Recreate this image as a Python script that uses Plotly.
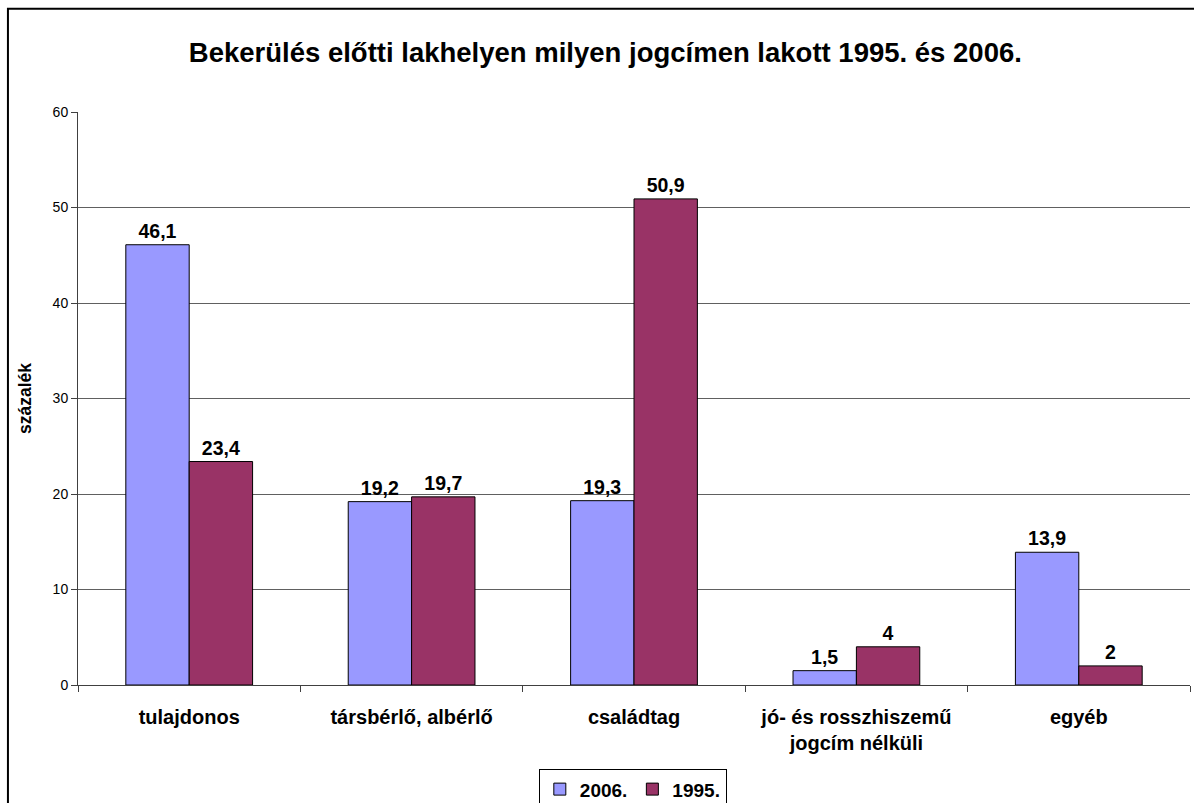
import plotly.graph_objects as go

# Data
categories = [
    "tulajdonos",
    "társbérlő, albérlő",
    "családtag",
    "jó- és rosszhiszemű<br>jogcím nélküli",
    "egyéb",
]
values_2006 = [46.1, 19.2, 19.3, 1.5, 13.9]
values_1995 = [23.4, 19.7, 50.9, 4, 2]
series_names = ["2006.", "1995."]
y_ticks = [0, 10, 20, 30, 40, 50, 60]

FONT = "Liberation Sans, Arial, sans-serif"


def fmt(v):
    return f"{v:g}".replace(".", ",")


fig = go.Figure()
for name, vals, color in [
    (series_names[0], values_2006, "#9999FF"),
    (series_names[1], values_1995, "#993366"),
]:
    fig.add_trace(
        go.Bar(
            name=name,
            x=categories,
            y=vals,
            text=[fmt(v) for v in vals],
            textposition="outside",
            textfont=dict(family=FONT, size=19.5, color="black", weight="bold"),
            marker=dict(color=color, line=dict(color="black", width=1)),
            cliponaxis=False,
        )
    )

# Outer chart frame
fig.add_shape(
    type="rect", xref="paper", yref="paper",
    x0=-0.063, x1=1.01, y0=-0.25, y1=1.18,
    line=dict(color="black", width=2), fillcolor="rgba(0,0,0,0)",
    layer="below",
)

fig.update_layout(
    width=1194,
    height=803,
    margin=dict(l=78, r=4, t=112, b=118),
    paper_bgcolor="white",
    plot_bgcolor="white",
    barmode="group",
    bargap=0.43,
    bargroupgap=0,
    title=dict(
        text="Bekerülés előtti lakhelyen milyen jogcímen lakott 1995. és 2006.",
        x=0.507, xanchor="center", y=0.935, yanchor="middle",
        font=dict(family=FONT, size=27.5, color="black", weight="bold"),
    ),
    font=dict(family=FONT, color="black"),
    showlegend=True,
    legend=dict(
        orientation="h",
        x=0.53, xanchor="center", xref="container",
        y=0.042, yanchor="top", yref="container",
        bordercolor="black", borderwidth=1,
        font=dict(family=FONT, size=19, color="black", weight="bold"),
        itemwidth=30,
        tracegroupgap=0,
    ),
    xaxis=dict(
        type="category",
        tickson="boundaries",
        ticks="outside",
        ticklen=6,
        tickcolor="#404040",
        showline=True,
        linecolor="#404040",
        linewidth=1,
        showgrid=False,
        tickfont=dict(family=FONT, size=20, color="black", weight="bold"),
        ticklabelstandoff=14,
        automargin=False,
    ),
    yaxis=dict(
        range=[0, 60],
        tickvals=y_ticks,
        ticks="outside",
        ticklen=6,
        tickcolor="#404040",
        showline=True,
        linecolor="#404040",
        linewidth=1,
        showgrid=True,
        gridcolor="#606060",
        gridwidth=1,
        zeroline=False,
        tickfont=dict(family=FONT, size=14, color="black"),
        automargin=False,
        title=dict(
            text="százalék",
            font=dict(family=FONT, size=17.5, color="black", weight="bold"),
            standoff=16,
        ),
    ),
)

fig.write_html("out.html")
